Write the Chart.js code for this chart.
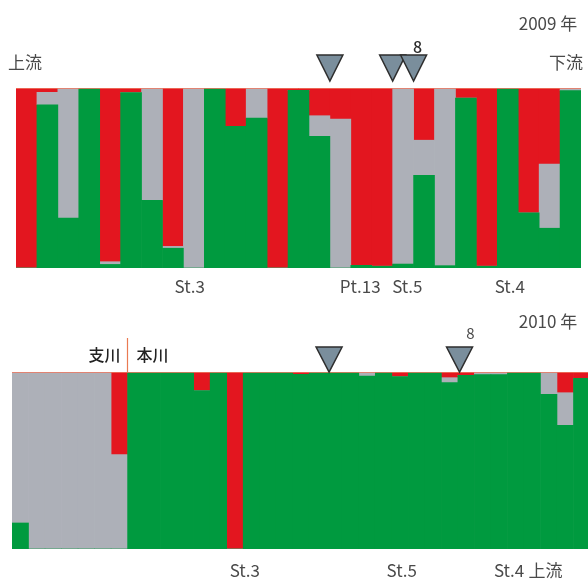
<!DOCTYPE html>
<html>
<head>
<meta charset="utf-8">
<script src="https://cdn.jsdelivr.net/npm/chart.js@4"></script>
<style>
  html, body { margin: 0; padding: 0; background: #fff; overflow: hidden; width: 588px; height: 579px; }
  .panel { position: absolute; left: 0; }
  #top2009 { top: 0; }
  #bottom2010 { top: 300px; }
</style>
</head>
<body>
<canvas id="top2009" class="panel" width="588" height="300"></canvas>
<canvas id="bottom2010" class="panel" width="600" height="279"></canvas>
<script>
// membership proportions per individual (red / gray / green clusters)
const labels2009 = Array.from({ length: 27 }, (_, i) => String(i + 1));
const red2009 = [1, 0.024, 0, 0, 0.965, 0.025, 0, 0.88, 0, 0, 0.213, 0, 1, 0.013,
  0.154, 0.172, 0.985, 0.99, 0, 0.29, 0, 0.056, 0.99, 0, 0.694, 0.422, 0];
const gray2009 = [0, 0.069, 0.722, 0, 0.015, 0, 0.624, 0.01, 1, 0, 0, 0.167, 0, 0,
  0.115, 0.828, 0, 0, 0.978, 0.195, 0.987, 0, 0, 0, 0, 0.357, 0.015];
const green2009 = [0, 0.907, 0.278, 1, 0.02, 0.975, 0.376, 0.11, 0, 1, 0.787, 0.833, 0, 0.987,
  0.731, 0, 0.015, 0.01, 0.022, 0.515, 0.013, 0.944, 0.01, 1, 0.306, 0.221, 0.985];

const labels2010 = Array.from({ length: 35 }, (_, i) => String(i + 1));
const red2010 = [0, 0, 0, 0, 0, 0, 0.467, 0, 0, 0, 0, 0.105, 0, 1, 0, 0, 0, 0.013,
  0, 0, 0, 0, 0, 0.026, 0, 0, 0.032, 0.019, 0, 0, 0, 0, 0, 0.117, 0.036];
const gray2010 = [0.853, 1, 1, 1, 1, 1, 0.533, 0, 0, 0, 0, 0, 0, 0, 0, 0, 0, 0,
  0, 0, 0, 0.023, 0, 0, 0, 0, 0.028, 0, 0.015, 0.015, 0, 0, 0.126, 0.185, 0];
const green2010 = [0.147, 0, 0, 0, 0, 0, 0, 1, 1, 1, 1, 0.895, 1, 0, 1, 1, 1, 0.987,
  1, 1, 1, 0.977, 1, 0.974, 1, 1, 0.94, 0.981, 0.985, 0.985, 1, 1, 0.874, 0.698, 0.964];

// sampling sites, placed in bar-index units
const sites2009 = ['St.3', 'Pt.13', 'St.5', 'St.4'];
const sitesAt2009 = [7.8, 15.95, 18.2, 23.1];
const markers2009 = [14.5, 17.5, 18.5];

const sites2010 = ['St.3', 'St.5', 'St.4', '上流'];
const sitesAt2010 = [13.6, 23.1, 29.6, 31.8];
const markers2010 = [18.7, 26.6];

const RED = '#e3161f';
const GRAY = '#adb0b8';
const GREEN = '#009a3f';
const TEXT = '#4a4a4a';
const FONT = '"Noto Sans CJK JP", "Noto Sans", sans-serif';

function triangle(ctx, x, tipY, h) {
  ctx.beginPath();
  ctx.moveTo(x - 13, tipY - h);
  ctx.lineTo(x + 13, tipY - h);
  ctx.lineTo(x, tipY);
  ctx.closePath();
  ctx.fillStyle = '#7a8e9c';
  ctx.fill();
  ctx.lineWidth = 1.5;
  ctx.strokeStyle = '#2e2e2e';
  ctx.stroke();
}

function text(ctx, str, x, y, size, color, weight) {
  ctx.font = (weight || 'normal') + ' ' + size + 'px ' + FONT;
  ctx.fillStyle = color;
  ctx.textAlign = 'center';
  ctx.textBaseline = 'middle';
  ctx.fillText(str, x, y);
}

function topEdge(ctx, area) {
  ctx.beginPath();
  ctx.moveTo(area.left, area.top + 0.5);
  ctx.lineTo(area.right, area.top + 0.5);
  ctx.lineWidth = 1;
  ctx.strokeStyle = 'rgba(238,120,96,0.8)';
  ctx.stroke();
}

const notes2009 = {
  id: 'notes2009',
  afterDraw(chart) {
    const { ctx, chartArea: a, scales: { x } } = chart;
    ctx.save();
    topEdge(ctx, a);
    text(ctx, '2009 年', a.right - 33, a.top - 64, 17, TEXT);
    text(ctx, '上流', a.left + 9, a.top - 25, 17, TEXT);
    text(ctx, '下流', a.right - 15, a.top - 25, 17, TEXT);
    markers2009.forEach(m => triangle(ctx, x.getPixelForValue(m), a.top - 7, 26));
    text(ctx, '8', x.getPixelForValue(markers2009[2]) + 4, a.top - 41, 16, '#2a2a2a', '500');
    sites2009.forEach((s, i) => text(ctx, s, x.getPixelForValue(sitesAt2009[i]), a.bottom + 19, 17, TEXT));
    ctx.restore();
  }
};

const notes2010 = {
  id: 'notes2010',
  afterDraw(chart) {
    const { ctx, chartArea: a, scales: { x } } = chart;
    ctx.save();
    topEdge(ctx, a);
    text(ctx, '2010 年', 548, a.top - 50, 17, TEXT);
    markers2010.forEach(m => triangle(ctx, x.getPixelForValue(m), a.top, 25));
    text(ctx, '8', x.getPixelForValue(markers2010[1]) + 11, a.top - 39, 15, TEXT);
    // tributary / main stream divider
    const dx = Math.round(x.getPixelForValue(6.5)) - 0.5;
    ctx.beginPath();
    ctx.moveTo(dx, a.top - 34);
    ctx.lineTo(dx, a.top);
    ctx.lineWidth = 1.2;
    ctx.strokeStyle = '#ea7a52';
    ctx.stroke();
    text(ctx, '支川', dx - 23, a.top - 17, 16, '#222', '500');
    text(ctx, '本川', dx + 25, a.top - 17, 16, '#222', '500');
    sites2010.forEach((s, i) => text(ctx, s, x.getPixelForValue(sitesAt2010[i]), a.bottom + 22, 17, TEXT));
    ctx.restore();
  }
};

function structurePlot(id, labels, green, gray, red, padding, notes) {
  const set = (data, color) => ({
    data, backgroundColor: color, borderWidth: 0,
    barPercentage: 1, categoryPercentage: 1
  });
  return new Chart(document.getElementById(id), {
    type: 'bar',
    data: {
      labels,
      datasets: [set(green, GREEN), set(gray, GRAY), set(red, RED)]
    },
    options: {
      responsive: false,
      animation: false,
      layout: { padding },
      plugins: { legend: { display: false }, tooltip: { enabled: false } },
      scales: {
        x: { stacked: true, display: false },
        y: { stacked: true, display: false, min: 0, max: 1 }
      }
    },
    plugins: [notes]
  });
}

structurePlot('top2009', labels2009, green2009, gray2009, red2009,
  { left: 16, right: 7, top: 88, bottom: 32 }, notes2009);
structurePlot('bottom2010', labels2010, green2010, gray2010, red2010,
  { left: 12, right: 10, top: 72, bottom: 30 }, notes2010);
</script>
</body>
</html>
